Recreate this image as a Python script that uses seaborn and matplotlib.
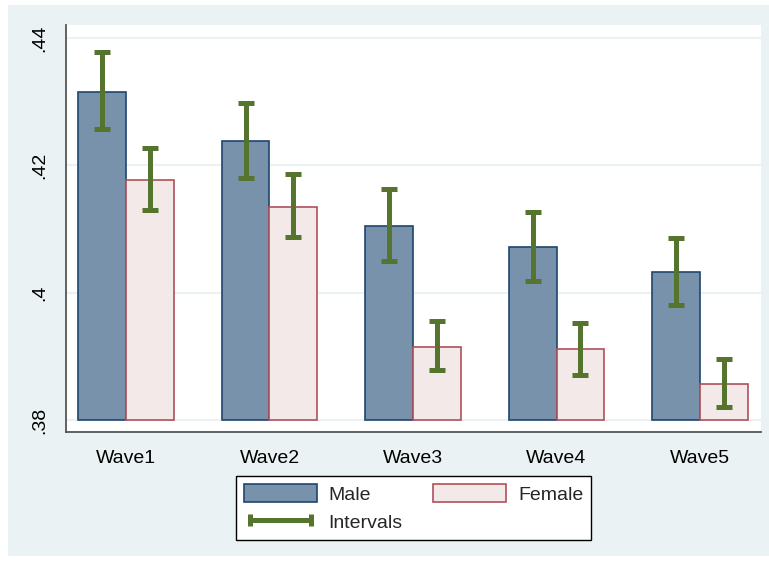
import matplotlib
matplotlib.use("Agg")
import matplotlib.pyplot as plt
import seaborn as sns
import pandas as pd
from matplotlib.patches import Rectangle, Patch
from matplotlib.lines import Line2D

# ---- data ----
waves = ["Wave1", "Wave2", "Wave3", "Wave4", "Wave5"]
male = [0.4315, 0.4238, 0.4105, 0.4072, 0.4033]
female = [0.4177, 0.4135, 0.3915, 0.3911, 0.3857]
male_lo = [0.4257, 0.4180, 0.4050, 0.4019, 0.3981]
male_hi = [0.4378, 0.4298, 0.4163, 0.4127, 0.4086]
female_lo = [0.4130, 0.4088, 0.3879, 0.3871, 0.3820]
female_hi = [0.4227, 0.4187, 0.3955, 0.3953, 0.3896]
yticks = [0.38, 0.40, 0.42, 0.44]
ytick_labels = [".38", ".4", ".42", ".44"]
BASE = 0.38

MALE_FILL, MALE_EDGE = "#7892ac", "#1e466e"
FEM_FILL, FEM_EDGE = "#f3e9e8", "#b0505a"
ERR = "#55752f"
BG = "#eaf2f3"

sns.set_theme(style="white")
plt.rcParams['font.family'] = ['Liberation Sans', 'DejaVu Sans']

W, H = 769, 561
fig = plt.figure(figsize=(W / 100, H / 100), dpi=100)
fig.patches.append(Rectangle((8 / W, 5 / H), 761 / W, 551 / H, transform=fig.transFigure,
                             facecolor=BG, edgecolor='none', zorder=-10))
ax = fig.add_axes([66 / W, 1 - 432 / H, (761 - 66) / W, (432 - 25) / H])
ax.set_zorder(1)
ax.set_facecolor("white")

df = pd.DataFrame({
    "wave": waves * 2,
    "sex": ["Male"] * len(waves) + ["Female"] * len(waves),
    "value": male + female,
})
df["height"] = df["value"] - BASE

sns.barplot(data=df, x="wave", y="height", hue="sex", bottom=BASE, width=0.668,
            palette={"Male": MALE_FILL, "Female": FEM_FILL}, saturation=1,
            errorbar=None, legend=False, linewidth=1.2, ax=ax, zorder=2)

edges = [MALE_EDGE, FEM_EDGE]
los = [male_lo, female_lo]
his = [male_hi, female_hi]
for cont, ec, lo, hi in zip(ax.containers, edges, los, his):
    xs = []
    for p in cont:
        p.set_edgecolor(ec)
        xs.append(p.get_x() + p.get_width() / 2)
    mid = [(a + b) / 2 for a, b in zip(lo, hi)]
    half = [(b - a) / 2 for a, b in zip(lo, hi)]
    ax.errorbar(xs, mid, yerr=half, fmt='none', ecolor=ERR, elinewidth=3.6,
                capsize=6, capthick=3.6, zorder=3)

ax.set_xlim(-0.418, 4.425)
ax.set_ylim(0.37812, 0.44204)
ax.set_yticks(yticks)
ax.set_yticklabels(ytick_labels)
ax.set_xlabel("")
ax.set_ylabel("")
ax.yaxis.grid(True, color=BG, linewidth=1.5)
ax.set_axisbelow(True)

for s in ["top", "right"]:
    ax.spines[s].set_visible(False)
for s in ["left", "bottom"]:
    ax.spines[s].set_color("#555555")
    ax.spines[s].set_linewidth(1.3)

ax.tick_params(axis='both', which='major', length=8, width=1.2, color="#555555",
               labelsize=14, labelcolor="black", direction='out')
ax.tick_params(axis='y', labelrotation=90, pad=5)
ax.tick_params(axis='x', pad=5)
for lab in ax.get_yticklabels():
    lab.set_va('center')

handles = [
    Patch(facecolor=MALE_FILL, edgecolor=MALE_EDGE, linewidth=1.2, label="Male"),
    Line2D([0], [0], color=ERR, linewidth=3.6, marker='|', markersize=8,
           markeredgewidth=3.6, label="Intervals"),
    Patch(facecolor=FEM_FILL, edgecolor=FEM_EDGE, linewidth=1.2, label="Female"),
]
leg = fig.legend(handles=handles, ncol=2, loc='center',
                 bbox_to_anchor=(413.5 / W, 1 - 508 / H), bbox_transform=fig.transFigure,
                 fontsize=14, frameon=True, fancybox=False, edgecolor='black',
                 framealpha=1, facecolor='white', handlelength=3.75, handleheight=1.0,
                 handletextpad=0.6, columnspacing=1.6, labelspacing=0.45,
                 borderpad=0.4, numpoints=2, borderaxespad=0)
leg.get_frame().set_linewidth(1.0)

fig.savefig("out.png", dpi=100)
